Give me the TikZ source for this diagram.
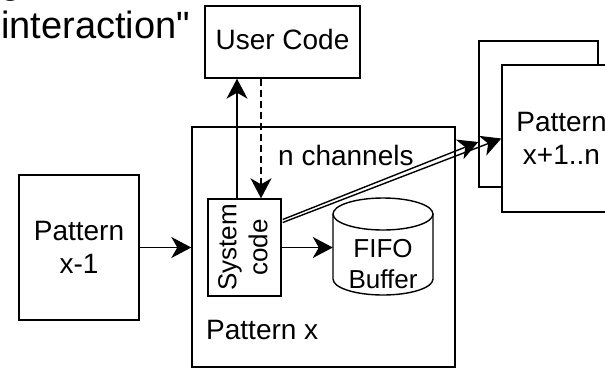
\documentclass[tikz,border=0pt]{standalone}
\usepackage{fontspec}
\setmainfont{Liberation Sans}
\newfontfamily\capfont{Liberation Sans}
\usetikzlibrary{arrows.meta,calc}
\tikzset{
  box/.style={draw, line width=1.4pt, fill=white, inner sep=0pt},
  arr/.style={line width=1.4pt, -{Stealth[length=20pt,width=21pt,inset=6pt]}},
  txt/.style={font=\fontsize{28}{33}\selectfont, inner sep=0pt, align=center},
  smalltxt/.style={font=\fontsize{26}{31}\selectfont, inner sep=0pt, align=center},
  bigtxt/.style={font=\capfont\fontsize{38}{44}\selectfont, inner sep=0pt},
}
\begin{document}
\begin{tikzpicture}[x=1pt,y=-1pt]
\useasboundingbox (0,0) rectangle (605,368);
% caption fragment
\node[bigtxt, anchor=base west] (capg) at (0,-7) {g};
\node[bigtxt, anchor=base west] (cap) at (1,38) {interaction"};
% user code
\node[box, minimum width=155pt, minimum height=72pt] (user) at (282.5,42) {};
\node[txt, anchor=base] (usertxt) at (282.5,49.5) {User Code};
% pattern x
\node[box, minimum width=263pt, minimum height=240pt] (patx) at (323.5,247) {};
\node[txt, anchor=base west] (patxtxt) at (206,339) {Pattern x};
\node[txt, anchor=base west] (nch) at (278,165) {n channels};
% system code
\node[box, minimum width=73pt, minimum height=97pt] (sys) at (244.5,247.5) {};
\node[smalltxt, rotate=90] (systxt) at (243,247.5) {System\\code};
% FIFO cylinder
\draw[line width=1.4pt, fill=white] (333,214) -- (333,279)
  arc[start angle=180, end angle=0, x radius=50, y radius=16] -- (433,214);
\draw[line width=1.4pt, fill=white] (383,214) ellipse[x radius=50, y radius=16];
\node[minimum width=100pt, minimum height=97pt, inner sep=0pt] (fifo) at (383,246.5) {};
\node[smalltxt] (fifotxt) at (383,264) {FIFO\\Buffer};
% pattern x-1
\node[box, minimum width=120pt, minimum height=145pt] (xm1) at (79,247.5) {};
\node[txt] (xm1txt) at (79,247) {Pattern\\x-1};
% pattern stack
\node[box, minimum width=119pt, minimum height=146pt] (back) at (538.5,114) {};
\node[box, minimum width=119pt, minimum height=147pt] (front) at (561.5,138.5) {};
\node[txt] (fronttxt) at (561.5,138) {Pattern\\x+1..n};
% connectors
\coordinate (upfoot) at ($(sys.north)+(-7.5,0)$);
\coordinate (dnfoot) at ($(sys.north)+(16.5,0)$);
\draw[arr] (xm1.east) -- (xm1.east -| patx.west);
\draw[arr] (sys.east) -- (sys.east -| fifo.west);
\draw[arr] (upfoot) -- (upfoot |- user.south);
\draw[arr, dash pattern=on 7pt off 4pt] (dnfoot |- user.south) -- (dnfoot);
\draw[arr] ($(sys.east)+(1,-28)$) -- ($(back.west)+(0,28)$);
\draw[arr] ($(sys.east)+(1,-25)$) -- (front.west);
\end{tikzpicture}
\end{document}
